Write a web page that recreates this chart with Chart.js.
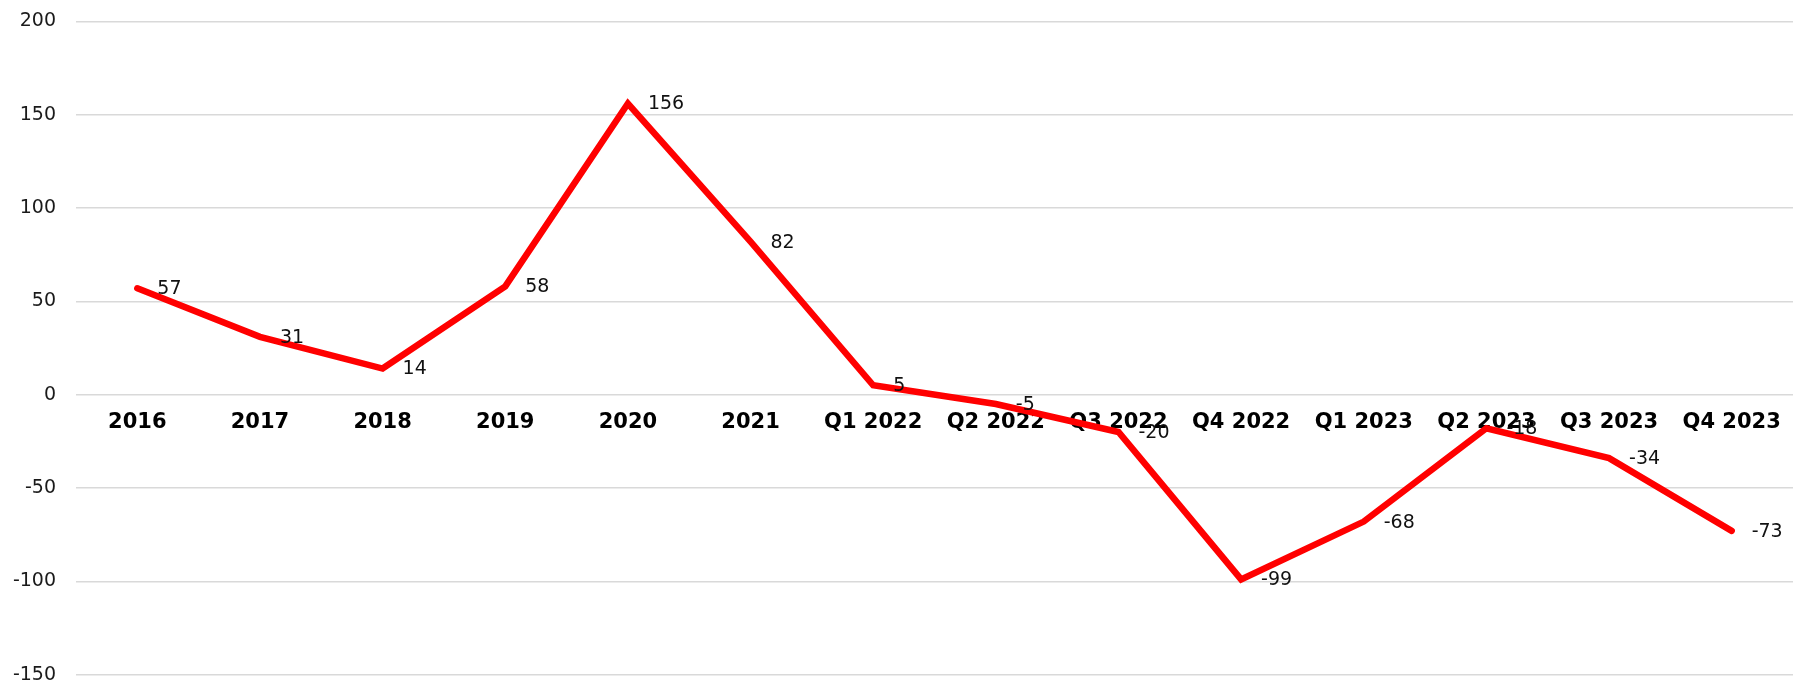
<!DOCTYPE html>
<html>
<head>
<meta charset="utf-8">
<script src="https://cdn.jsdelivr.net/npm/chart.js@4.4.1/dist/chart.umd.min.js"></script>
<style>
  html, body { margin: 0; padding: 0; background: #fff; overflow: hidden; }
  #wrap { width: 1799px; height: 716px; margin-top: -10px; }
</style>
</head>
<body>
<div id="wrap"><canvas id="line-chart"></canvas></div>
<script>
var periods = ['2016', '2017', '2018', '2019', '2020', '2021',
    'Q1 2022', 'Q2 2022', 'Q3 2022', 'Q4 2022',
    'Q1 2023', 'Q2 2023', 'Q3 2023', 'Q4 2023'];

var values = [57, 31, 14, 58, 156, 82, 5, -5, -20, -99, -68, -18, -34, -73];

var yMin = -150, yMax = 200, yStep = 50;

// value labels to the right of each point
var pointLabels = {
    id: 'pointLabels',
    afterDatasetsDraw: function(chart) {
        var ctx = chart.ctx;
        var meta = chart.getDatasetMeta(0);
        ctx.save();
        ctx.font = '19px "DejaVu Sans"';
        ctx.fillStyle = '#111';
        ctx.textAlign = 'left';
        ctx.textBaseline = 'middle';
        meta.data.forEach(function(pt, i) {
            ctx.fillText(String(values[i]), pt.x + 20, pt.y + 1);
        });
        ctx.restore();
    }
};

var lineChart = new Chart(document.getElementById('line-chart'), {
    type: 'line',
    data: {
        labels: periods,
        datasets: [{
            data: values,
            borderColor: '#ff0000',
            borderWidth: 6.5,
            borderCapStyle: 'round',
            borderJoinStyle: 'miter',
            pointRadius: 0,
            tension: 0,
            fill: false
        }]
    },
    options: {
        responsive: true,
        maintainAspectRatio: false,
        animation: false,
        layout: { padding: { top: 0, bottom: 0, right: 6, left: 0 } },
        plugins: {
            legend: { display: false },
            tooltip: { enabled: false }
        },
        scales: {
            x: {
                position: { y: 0 },
                offset: true,
                z: 1,
                grid: { display: false, drawTicks: false },
                border: { display: false },
                ticks: {
                    padding: 15,
                    maxRotation: 0,
                    autoSkip: false,
                    color: '#000',
                    font: { family: 'DejaVu Sans', size: 21, weight: 'bold' }
                }
            },
            y: {
                min: yMin,
                max: yMax,
                afterFit: function(scale) { scale.width = 76; },
                grid: { color: '#d9d9d9', lineWidth: 1.5, drawTicks: false },
                border: { display: false },
                ticks: {
                    stepSize: yStep,
                    padding: 20,
                    color: '#1a1a1a',
                    font: { family: 'DejaVu Sans', size: 19 }
                }
            }
        }
    },
    plugins: [pointLabels]
});
</script>
</body>
</html>
